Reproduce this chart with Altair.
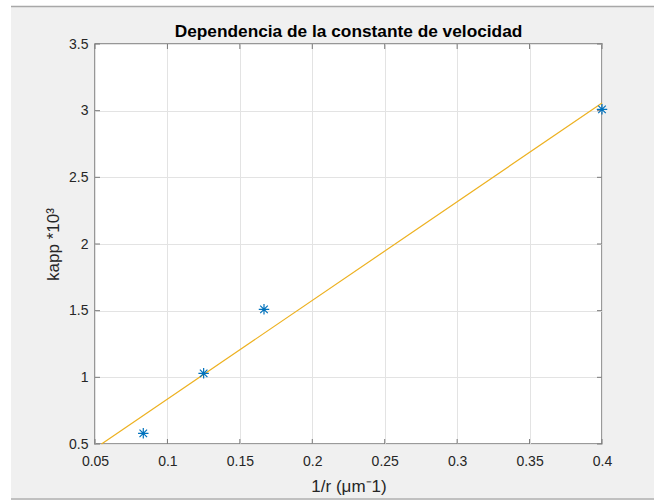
import altair as alt
import pandas as pd

# Data
x_vals = [1/12, 0.125, 1/6, 0.4]
y_vals = [0.58, 1.03, 1.51, 3.01]
fit_x = [0.0545, 0.4]
fit_y = [0.5, 3.057]
x_ticks = [0.05, 0.1, 0.15, 0.2, 0.25, 0.3, 0.35, 0.4]
y_ticks = [0.5, 1, 1.5, 2, 2.5, 3, 3.5]
title_text = "Dependencia de la constante de velocidad"

pts = pd.DataFrame({"x": x_vals, "y": y_vals})
fit = pd.DataFrame({"x": fit_x, "y": fit_y})

W, H = 507, 400
FONT = "Liberation Sans"
TXT = "#262626"
AX = "#7a7a7a"

xscale = alt.Scale(domain=[0.05, 0.4], nice=False, zero=False)
yscale = alt.Scale(domain=[0.5, 3.5], nice=False, zero=False)

x_axis = alt.Axis(values=x_ticks, format="~g", title="1/r (μm⁻1)", grid=True,
                  gridColor="#e3e3e3", domain=False, ticks=False, labelFlush=False,
                  labelFont=FONT, labelFontSize=14, labelColor=TXT, labelPadding=10,
                  labelOverlap=False, titleFont=FONT, titleFontSize=17,
                  titleFontWeight="normal", titleColor=TXT, titlePadding=10)
y_axis = alt.Axis(values=y_ticks, format="~g", title="kapp *10³", grid=True,
                  gridColor="#e3e3e3", domain=False, ticks=False, labelFlush=False,
                  labelFont=FONT, labelFontSize=14, labelColor=TXT, labelPadding=7,
                  labelOverlap=False, titleFont=FONT, titleFontSize=17,
                  titleFontWeight="normal", titleColor=TXT, titlePadding=6)

frame_data = pd.DataFrame({"a": [0]})
strip_left = alt.Chart(frame_data).mark_rect(color="white").encode(
    x=alt.value(-95), x2=alt.value(-84), y=alt.value(-44), y2=alt.value(H + 56))
strip_top = alt.Chart(frame_data).mark_rect(color="white").encode(
    x=alt.value(-95), x2=alt.value(W + 52), y=alt.value(-44), y2=alt.value(-38))
rule_top = alt.Chart(frame_data).mark_rule(color="#a8a8a8", strokeWidth=1.5).encode(
    x=alt.value(-84), x2=alt.value(W + 52), y=alt.value(-37.5))
rule_bot = alt.Chart(frame_data).mark_rule(color="#b0b0b0", strokeWidth=1.5).encode(
    x=alt.value(-84), x2=alt.value(W + 52), y=alt.value(H + 55))
title_mark = alt.Chart(frame_data).mark_text(
    font=FONT, fontSize=17.3, fontWeight="bold", color="#000000",
    align="center", baseline="alphabetic").encode(
    x=alt.value(W / 2), y=alt.value(-7), text=alt.value(title_text))

line = alt.Chart(fit).mark_line(color="#EDB120", strokeWidth=1.2).encode(
    x=alt.X("x:Q", scale=xscale, axis=x_axis),
    y=alt.Y("y:Q", scale=yscale, axis=y_axis))

asterisk = "M-1,0L1,0M0,-1L0,1M-0.72,-0.72L0.72,0.72M-0.72,0.72L0.72,-0.72"
points = alt.Chart(pts).mark_point(shape=asterisk, filled=False, color="#0072BD",
                                   size=110, strokeWidth=1.2, opacity=1).encode(
    x=alt.X("x:Q", scale=xscale), y=alt.Y("y:Q", scale=yscale))

# inward tick marks (MATLAB style), drawn through the scales
xt = pd.DataFrame({"x": x_ticks})
yt = pd.DataFrame({"y": y_ticks})
xtick_b = alt.Chart(xt).mark_rule(color=AX, strokeWidth=1).encode(
    x=alt.X("x:Q", scale=xscale), y=alt.value(H), y2=alt.value(H - 5))
xtick_t = alt.Chart(xt).mark_rule(color=AX, strokeWidth=1).encode(
    x=alt.X("x:Q", scale=xscale), y=alt.value(0), y2=alt.value(5))
ytick_l = alt.Chart(yt).mark_rule(color=AX, strokeWidth=1).encode(
    y=alt.Y("y:Q", scale=yscale), x=alt.value(0), x2=alt.value(5))
ytick_r = alt.Chart(yt).mark_rule(color=AX, strokeWidth=1).encode(
    y=alt.Y("y:Q", scale=yscale), x=alt.value(W), x2=alt.value(W - 5))

chart = alt.layer(
    strip_left, strip_top, rule_top, rule_bot, title_mark,
    xtick_b, xtick_t, ytick_l, ytick_r, line, points
).properties(
    width=W, height=H,
    autosize=alt.AutoSizeParams(type="none"),
    padding={"left": 95, "top": 44, "right": 52, "bottom": 56},
).configure(background="#f0f0f0").configure_view(
    fill="white", stroke=AX, strokeWidth=1.5)

chart.save("out.html", embed_options={"renderer": "svg", "actions": False})
